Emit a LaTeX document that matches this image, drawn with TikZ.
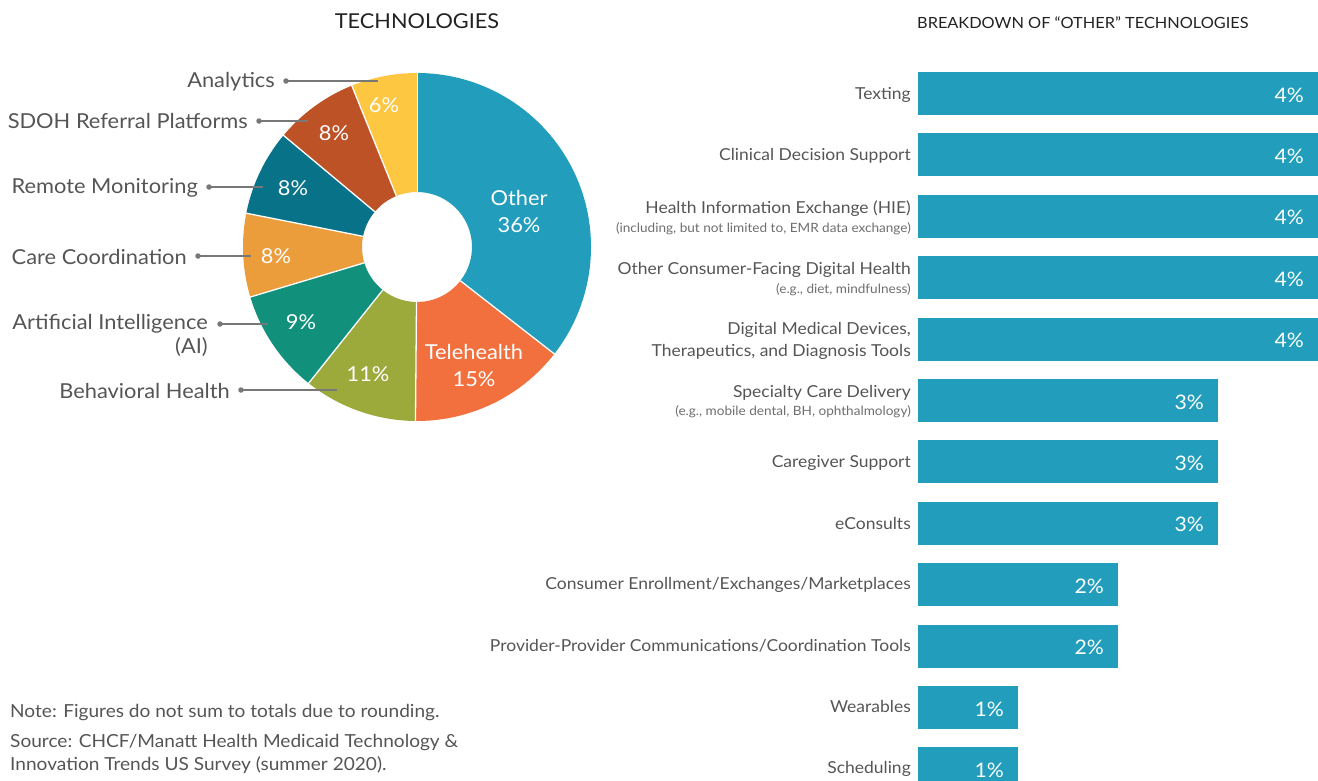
\documentclass[tikz,border=0pt]{standalone}
\usepackage{fontspec}
\setmainfont{Lato}[FakeStretch=1.06]
\usepackage{tikz}
\usetikzlibrary{calc}
\definecolor{OtherC}{RGB}{34, 158, 188}
\definecolor{TeleC}{RGB}{242, 112, 62}
\definecolor{BehavC}{RGB}{155, 170, 59}
\definecolor{AIC}{RGB}{17, 144, 124}
\definecolor{CareC}{RGB}{236, 157, 59}
\definecolor{RemoteC}{RGB}{8, 114, 137}
\definecolor{SdohC}{RGB}{189, 82, 39}
\definecolor{AnalyC}{RGB}{254, 199, 65}
\definecolor{Label}{RGB}{85, 85, 85}
\definecolor{Lead}{RGB}{120, 120, 120}
\definecolor{Title}{RGB}{34, 34, 34}

\tikzset{
    lbl/.style={inner sep=0pt, anchor=east, text=Label, font=\fontsize{20.6}{24}\selectfont},
    inpie/.style={inner sep=0pt, text=white, align=center, font=\fontsize{20.6}{27}\selectfont},
    leader/.style={draw=Lead, line width=1.6pt},
    dot/.style={circle, fill=Lead, inner sep=0pt, minimum size=5.5pt},
    barlbl/.style={inner sep=0pt, anchor=east, text=Label, font=\fontsize{16.5}{20}\selectfont},
    sublbl/.style={inner sep=0pt, anchor=east, text=Label!85, font=\fontsize{12.8}{14}\selectfont},
    pct/.style={inner sep=0pt, anchor=east, text=white, font=\fontsize{20}{24}\selectfont},
    note/.style={inner sep=0pt, anchor=west, text=Label, align=left, font=\fontsize{18}{23}\selectfont},
}

\begin{document}
\begin{tikzpicture}[x=1pt, y=-1pt]
    %%Background
    \useasboundingbox (0,0) rectangle (1318,780);
    \clip (0,0) rectangle (1318,780);

    %% Titles
    \node[inner sep=0pt, text=Title, font=\fontsize{20.5}{23}\selectfont] (tLeft) at (417,21) {TECHNOLOGIES};
    \node[inner sep=0pt, anchor=west, text=Title, font=\fontsize{15.4}{17}\selectfont] (tRight) at (917,23) {BREAKDOWN OF \textquotedblleft OTHER\textquotedblright{} TECHNOLOGIES};

    %% Donut
    \begin{scope}[shift={(417,247)}]
        \foreach \a/\b/\c in {-90/37.9/OtherC, 37.9/90.5/TeleC, 90.5/128.5/BehavC,
            128.5/163.3/AIC, 163.3/191.2/CareC, 191.2/219.9/RemoteC,
            219.9/248/SdohC, 248/270/AnalyC}
        {
            \fill[\c] (\a:55) -- (\a:174) arc[start angle=\a, end angle=\b, radius=174]
                -- (\b:55) arc[start angle=\b, end angle=\a, radius=55] -- cycle;
            \draw[white, line width=1.3pt] (\a:55) -- (\a:174.5);
        }
    \end{scope}

    %% Shares in the donut
    \node[inpie] (pOther) at (519,211) {Other\\36\%};
    \node[inpie] (pTele) at (474,365) {Telehealth\\15\%};
    \node[inpie] (pBehav) at (368,374) {11\%};
    \node[inpie] (pAI) at (301,322) {9\%};
    \node[inpie] (pCare) at (276,256) {8\%};
    \node[inpie] (pRemote) at (293,188) {8\%};
    \node[inpie] (pSdoh) at (334,133) {8\%};
    \node[inpie] (pAnaly) at (384,105) {6\%};

    %% Labels and leaders
    \node[lbl] (lAnaly) at (275,82) {Analytics};
    \node[lbl] (lSdoh) at (248,121) {SDOH Referral Platforms};
    \node[lbl] (lRemote) at (198,188) {Remote Monitoring};
    \node[lbl] (lCare) at (187,257) {Care Coordination};
    \node[lbl, anchor=north east, align=right] (lAI) at (208,314) {Artificial Intelligence\\(AI)};
    \node[lbl] (lBehav) at (230,391) {Behavioral Health};

    \coordinate (dAnaly) at (286,81);   \coordinate (eAnaly) at (378,81);
    \coordinate (dSdoh) at (259,121);   \coordinate (eSdoh) at (308,121);
    \coordinate (dRemote) at (209,187); \coordinate (eRemote) at (263,187);
    \coordinate (dCare) at (198,256);   \coordinate (eCare) at (251,256);
    \coordinate (dAI) at (220,324);     \coordinate (eAI) at (268,324);
    \coordinate (dBehav) at (241,390);  \coordinate (eBehav) at (337,390);

    \foreach \s in {Analy, Sdoh, Remote, Care, AI, Behav}
    {
        \draw[leader] (d\s) -- (e\s);
        \node[dot] at (d\s) {};
    }

    %% Bars
    \foreach \v [count=\i from 0] in {4,4,4,4,4,3,3,3,2,2,1,1}
    {
        \fill[OtherC] (918,{72+61.4*\i}) rectangle ++({100*\v},43);
        \node[pct] (v\i) at ({904+100*\v},{95+61.4*\i}) {\v\%};
    }

    \node[barlbl] (bText) at (911,94.5) {Texting};
    \node[barlbl] (bCds) at (911,155.5) {Clinical Decision Support};
    \node[barlbl] (bHie) at (911,208.5) {Health Information Exchange (HIE)};
    \node[sublbl] (sHie) at (911,229) {(including, but not limited to, EMR data exchange)};
    \node[barlbl] (bCons) at (911,269.5) {Other Consumer-Facing Digital Health};
    \node[sublbl] (sCons) at (911,290) {(e.g., diet, mindfulness)};
    \node[barlbl] (bDev) at (911,329.5) {Digital Medical Devices,};
    \node[barlbl] (bDev2) at (911,351.5) {Therapeutics, and Diagnosis Tools};
    \node[barlbl] (bSpec) at (911,392.5) {Specialty Care Delivery};
    \node[sublbl] (sSpec) at (911,412) {(e.g., mobile dental, BH, ophthalmology)};
    \node[barlbl] (bCare) at (911,462.5) {Caregiver Support};
    \node[barlbl] (bEcon) at (911,523.5) {eConsults};
    \node[barlbl] (bEnrol) at (911,584.5) {Consumer Enrollment/Exchanges/Marketplaces};
    \node[barlbl] (bProv) at (911,645.5) {Provider-Provider Communications/Coordination Tools};
    \node[barlbl] (bWear) at (911,706.5) {Wearables};
    \node[barlbl] (bSched) at (911,768.5) {Scheduling};

    %% Notes
    \node[note] (nNote) at (10,713) {Note: Figures do not sum to totals due to rounding.};
    \node[note, anchor=north west] (nSource) at (10,734) {Source: CHCF/Manatt Health Medicaid Technology \&\\Innovation Trends US Survey (summer 2020).};

\end{tikzpicture}
\end{document}
